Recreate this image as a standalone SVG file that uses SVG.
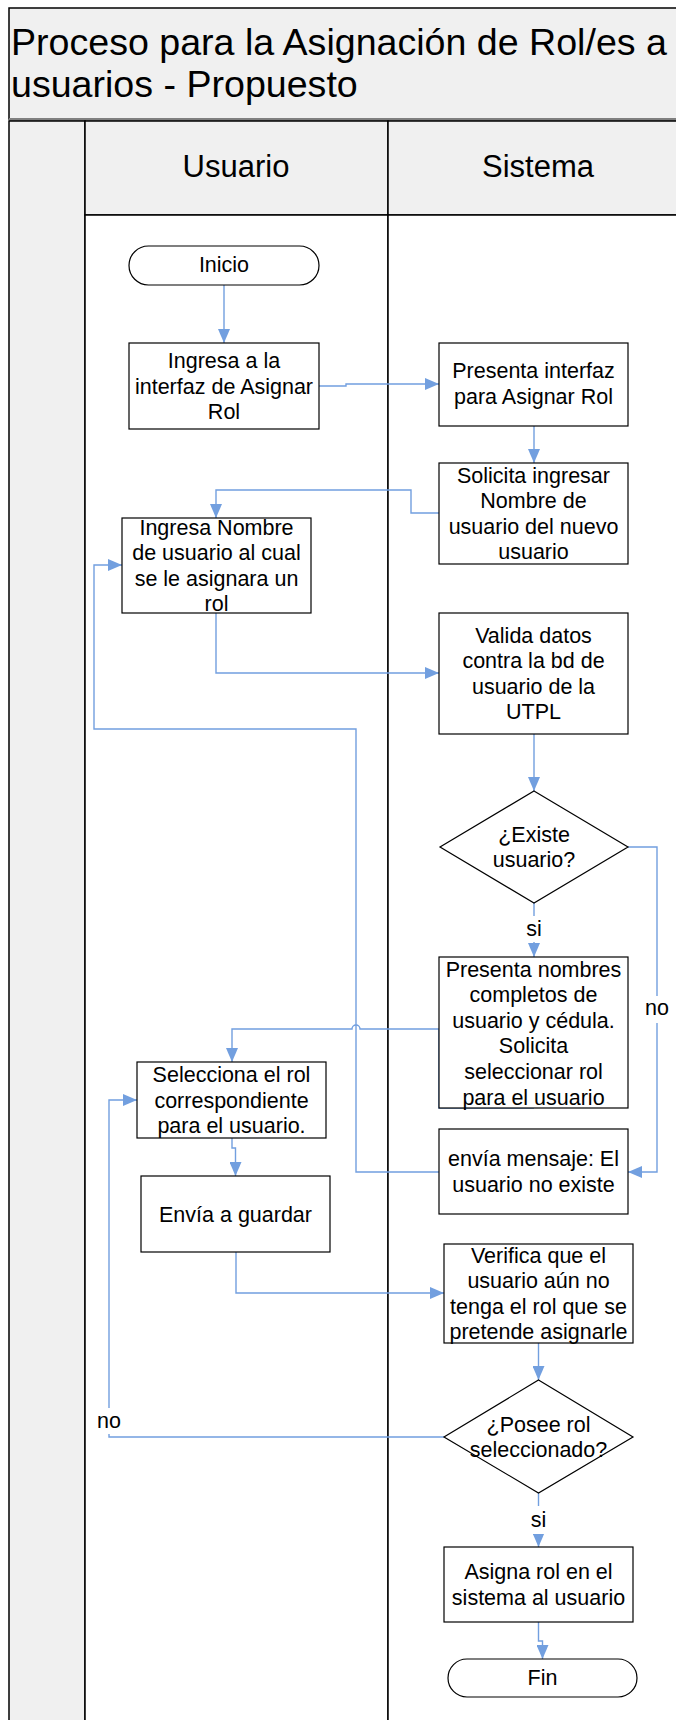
<svg xmlns="http://www.w3.org/2000/svg" width="676" height="1720" viewBox="0 0 676 1720">
<defs>
<style>
.lane{fill:#f0f0f0;stroke:#000;stroke-width:1.5}
.body{fill:#fff;stroke:#000;stroke-width:1.5}
.box{fill:#fff;stroke:#000;stroke-width:1.2}
.t{font-family:"Liberation Sans",Arial,sans-serif;font-size:21.5px;fill:#000;text-anchor:middle}
.hdr{font-family:"Liberation Sans",Arial,sans-serif;font-size:31px;fill:#000;text-anchor:middle}
.title{font-family:"Liberation Sans",Arial,sans-serif;font-size:37.6px;fill:#000}
.c{fill:none;stroke:#729fdf;stroke-width:1.4}
.lbl{fill:#fff;stroke:none}
</style>
<marker id="ah" markerUnits="userSpaceOnUse" markerWidth="14" markerHeight="12" refX="14" refY="6" orient="auto">
<path d="M0,0 L14,6 L0,12 Z" fill="#729fdf"/>
</marker>
</defs>
<g id="frame">
<rect x="9" y="8" width="700" height="111" class="lane"/>
<line x1="9" y1="119.5" x2="676" y2="119.5" stroke="#808080" stroke-width="3"/>
<text class="title" x="11" y="55">Proceso para la Asignación de Rol/es a</text>
<text class="title" x="11" y="97">usuarios - Propuesto</text>
<rect x="9" y="121" width="76" height="1620" class="lane"/>
<rect x="85" y="121" width="303" height="94" class="lane"/>
<rect x="388" y="121" width="320" height="94" class="lane"/>
<rect x="85" y="215" width="303" height="1520" class="body"/>
<rect x="388" y="215" width="320" height="1520" class="body"/>
<text class="hdr" x="236" y="177">Usuario</text>
<text class="hdr" x="538" y="177">Sistema</text>
</g>
<g id="connectors">
<path class="c" d="M224,285 V343" marker-end="url(#ah)"/>
<path class="c" d="M319,386 H346 V384 H439" marker-end="url(#ah)"/>
<path class="c" d="M534,426 V463" marker-end="url(#ah)"/>
<path class="c" d="M439,513 H411 V490 H216 V518" marker-end="url(#ah)"/>
<path class="c" d="M216,613 V673 H439" marker-end="url(#ah)"/>
<path class="c" d="M534,734 V791" marker-end="url(#ah)"/>
<path class="c" d="M534,903 V957" marker-end="url(#ah)"/>
<path class="c" d="M628,847 H657 V1172 H628" marker-end="url(#ah)"/>
<path class="c" d="M534,1108 H439 V1029 H360 A4,4 0 0 0 352,1029 H232 V1062" marker-end="url(#ah)"/>
<path class="c" d="M232,1138 V1148 H235.5 V1176" marker-end="url(#ah)"/>
<path class="c" d="M439,1172 H356 V729 H94 V565 H122" marker-end="url(#ah)"/>
<path class="c" d="M236,1252 V1293 H444" marker-end="url(#ah)"/>
<path class="c" d="M538.5,1343 V1380" marker-end="url(#ah)"/>
<path class="c" d="M444,1437 H109 V1100 H137" marker-end="url(#ah)"/>
<path class="c" d="M538.5,1493 V1547" marker-end="url(#ah)"/>
<path class="c" d="M538.5,1622 V1641 H542.5 V1659" marker-end="url(#ah)"/>
<rect class="lbl" x="525" y="916" width="18" height="26"/>
<text class="t" x="534" y="936">si</text>
<rect class="lbl" x="645" y="996" width="24" height="27"/>
<text class="t" x="657" y="1015">no</text>
<rect class="lbl" x="96" y="1408" width="26" height="26"/>
<text class="t" x="109" y="1428">no</text>
<rect class="lbl" x="529" y="1506" width="18" height="28"/>
<text class="t" x="538.5" y="1527">si</text>
</g>
<g id="inicio">
<rect x="129" y="246" width="190" height="39" rx="19.5" class="box"/>
<text class="t" x="224" y="272">Inicio</text>
</g>
<g id="ingresa-interfaz">
<rect x="129" y="343" width="190" height="86" class="box"/>
<text class="t" x="224" y="368">Ingresa a la<tspan x="224" dy="25.6">interfaz de Asignar</tspan><tspan x="224" dy="25.6">Rol</tspan></text>
</g>
<g id="presenta-interfaz">
<rect x="439" y="343" width="189" height="83" class="box"/>
<text class="t" x="533.5" y="378">Presenta interfaz<tspan x="533.5" dy="25.6">para Asignar Rol</tspan></text>
</g>
<g id="solicita-ingresar">
<rect x="439" y="463" width="189" height="101" class="box"/>
<text class="t" x="533.5" y="482.6">Solicita ingresar<tspan x="533.5" dy="25.6">Nombre de</tspan><tspan x="533.5" dy="25.6">usuario del nuevo</tspan><tspan x="533.5" dy="25.6">usuario</tspan></text>
</g>
<g id="ingresa-nombre">
<rect x="122" y="518" width="189" height="95" class="box"/>
<text class="t" x="216.5" y="534.6">Ingresa Nombre<tspan x="216.5" dy="25.6">de usuario al cual</tspan><tspan x="216.5" dy="25.6">se le asignara un</tspan><tspan x="216.5" dy="25.6">rol</tspan></text>
</g>
<g id="valida-datos">
<rect x="439" y="613" width="189" height="121" class="box"/>
<text class="t" x="533.5" y="642.6">Valida datos<tspan x="533.5" dy="25.6">contra la bd de</tspan><tspan x="533.5" dy="25.6">usuario de la</tspan><tspan x="533.5" dy="25.6">UTPL</tspan></text>
</g>
<g id="existe-usuario">
<polygon points="534,791 628,847 534,903 440,847" class="box"/>
<text class="t" x="534" y="841.7">¿Existe<tspan x="534" dy="25.6">usuario?</tspan></text>
</g>
<g id="presenta-nombres">
<rect x="439" y="957" width="189" height="151" class="box"/>
<text class="t" x="533.5" y="976.5">Presenta nombres<tspan x="533.5" dy="25.6">completos de</tspan><tspan x="533.5" dy="25.6">usuario y cédula.</tspan><tspan x="533.5" dy="25.6">Solicita</tspan><tspan x="533.5" dy="25.6">seleccionar rol</tspan><tspan x="533.5" dy="25.6">para el usuario</tspan></text>
</g>
<g id="selecciona-rol">
<rect x="137" y="1062" width="189" height="76" class="box"/>
<text class="t" x="231.5" y="1082">Selecciona el rol<tspan x="231.5" dy="25.6">correspondiente</tspan><tspan x="231.5" dy="25.6">para el usuario.</tspan></text>
</g>
<g id="envia-mensaje">
<rect x="439" y="1129" width="189" height="85" class="box"/>
<text class="t" x="533.5" y="1166">envía mensaje: El<tspan x="533.5" dy="25.6">usuario no existe</tspan></text>
</g>
<g id="envia-guardar">
<rect x="141" y="1176" width="189" height="76" class="box"/>
<text class="t" x="235.5" y="1221.5">Envía a guardar</text>
</g>
<g id="verifica">
<rect x="444" y="1244" width="189" height="99" class="box"/>
<text class="t" x="538.5" y="1262.6">Verifica que el<tspan x="538.5" dy="25.6">usuario aún no</tspan><tspan x="538.5" dy="25.6">tenga el rol que se</tspan><tspan x="538.5" dy="25.6">pretende asignarle</tspan></text>
</g>
<g id="posee-rol">
<polygon points="538.5,1380 633,1437 538.5,1493 444,1437" class="box"/>
<text class="t" x="538.5" y="1431.7">¿Posee rol<tspan x="538.5" dy="25.6">seleccionado?</tspan></text>
</g>
<g id="asigna-rol">
<rect x="444" y="1547" width="189" height="75" class="box"/>
<text class="t" x="538.5" y="1579.2">Asigna rol en el<tspan x="538.5" dy="25.6">sistema al usuario</tspan></text>
</g>
<g id="fin">
<rect x="448" y="1659" width="189" height="38" rx="19" class="box"/>
<text class="t" x="542.5" y="1685">Fin</text>
</g>
</svg>
